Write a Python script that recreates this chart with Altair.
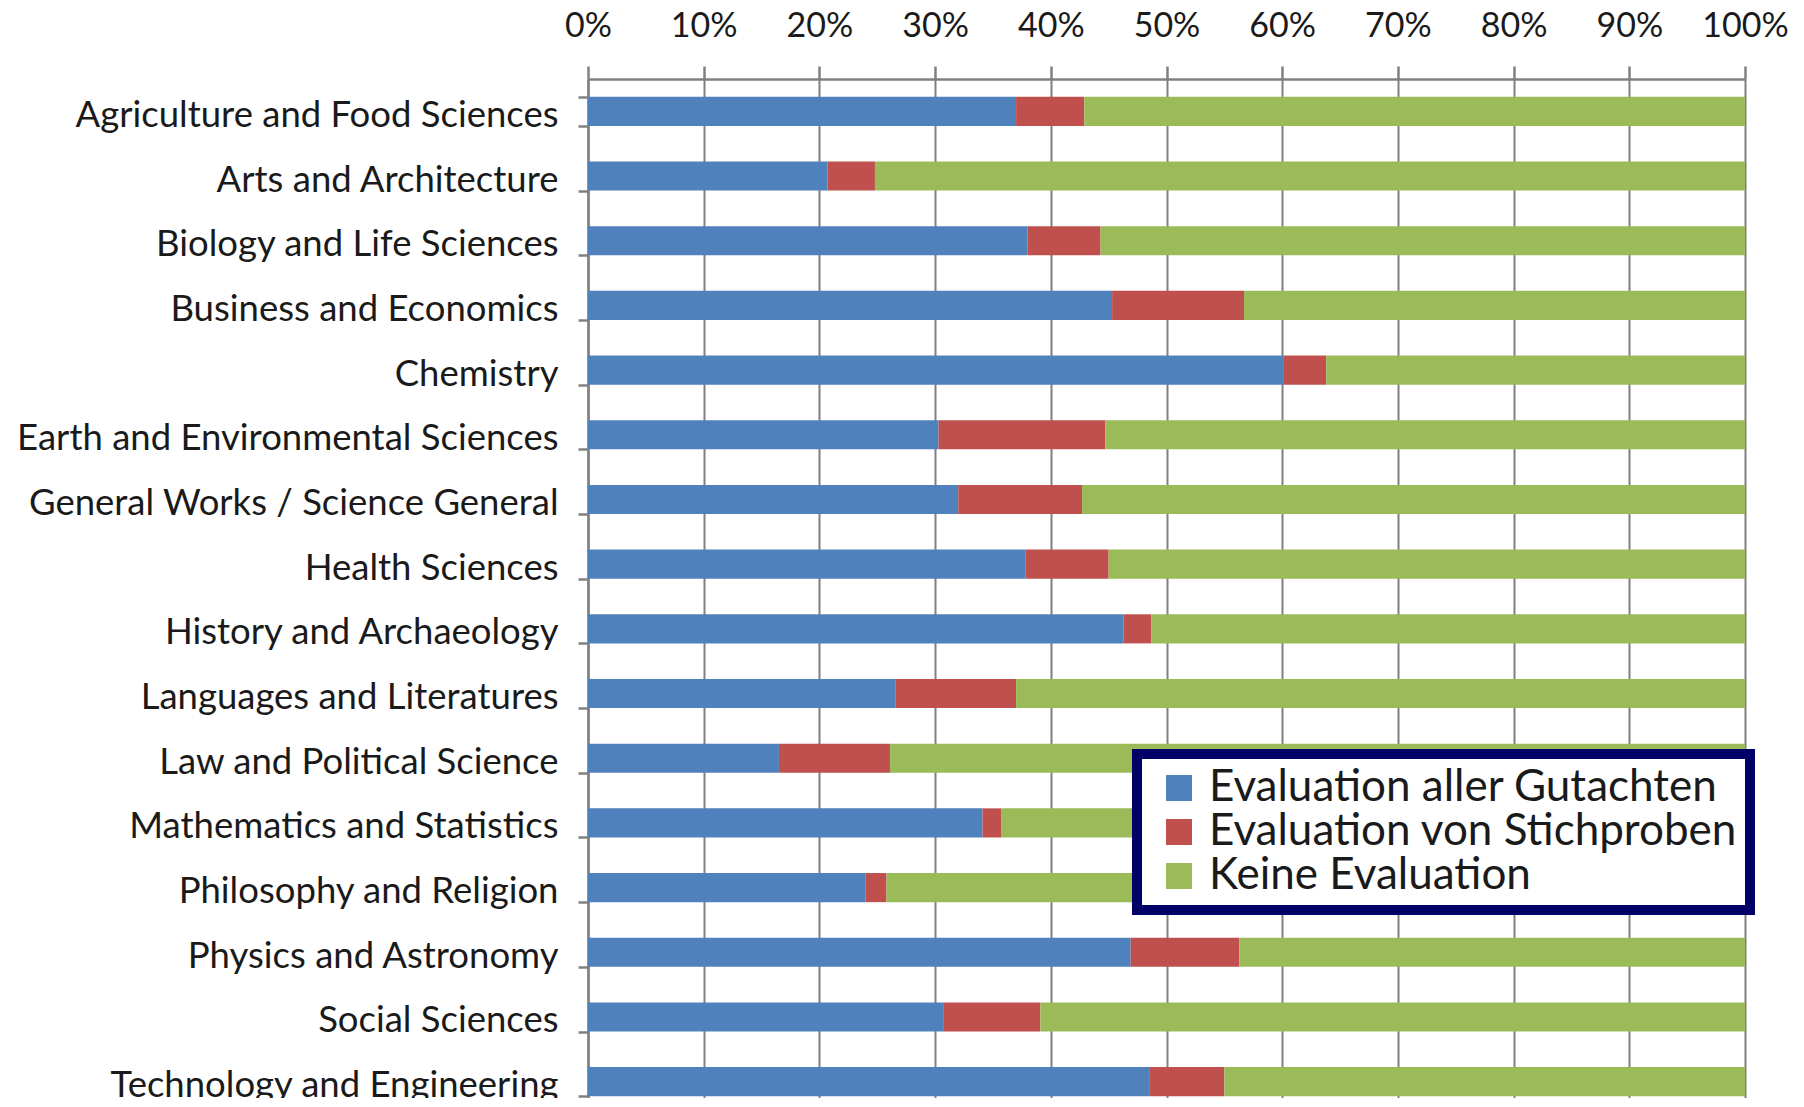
import altair as alt
import pandas as pd

categories = [
    "Agriculture and Food Sciences",
    "Arts and Architecture",
    "Biology and Life Sciences",
    "Business and Economics",
    "Chemistry",
    "Earth and Environmental Sciences",
    "General Works / Science General",
    "Health Sciences",
    "History and Archaeology",
    "Languages and Literatures",
    "Law and Political Science",
    "Mathematics and Statistics",
    "Philosophy and Religion",
    "Physics and Astronomy",
    "Social Sciences",
    "Technology and Engineering",
]
series_names = ["Evaluation aller Gutachten", "Evaluation von Stichproben", "Keine Evaluation"]
series_colors = ["#4F81BD", "#C0504D", "#9BBB59"]

all_reviews = [37.0, 20.7, 38.0, 45.3, 60.1, 30.3, 32.0, 37.8, 46.3, 26.6, 16.5, 34.1, 24.0, 46.9, 30.7, 48.5]
samples = [5.9, 4.1, 6.3, 11.4, 3.7, 14.4, 10.7, 7.2, 2.4, 10.4, 9.6, 1.6, 1.8, 9.4, 8.4, 6.5]
no_eval = [57.1, 75.2, 55.7, 43.3, 36.2, 55.3, 57.3, 55.0, 51.3, 63.0, 73.9, 64.3, 74.2, 43.7, 60.9, 45.0]

tick_values = [0, 0.1, 0.2, 0.3, 0.4, 0.5, 0.6, 0.7, 0.8, 0.9, 1.0]

rows = []
for s_idx, (name, vals) in enumerate(zip(series_names, [all_reviews, samples, no_eval])):
    for cat, v in zip(categories, vals):
        rows.append({"category": cat, "series": name, "idx": s_idx, "value": v})
df = pd.DataFrame(rows)

GRAY = "#808080"
FONT = "Lato"

chart = (
    alt.Chart(df)
    .mark_bar()
    .encode(
        x=alt.X(
            "value:Q",
            stack="normalize",
            scale=alt.Scale(domain=[0, 1], nice=False),
            title=None,
            axis=alt.Axis(
                orient="top",
                values=tick_values,
                format=".0%",
                grid=True,
                gridColor=GRAY,
                gridWidth=2,
                gridOpacity=1,
                domainColor=GRAY,
                domainWidth=2.5,
                tickColor=GRAY,
                tickWidth=2.5,
                tickSize=13,
                labelFont=FONT,
                labelFontSize=34,
                labelColor="#1a1a1a",
                labelPadding=23,
                labelFlush=False,
                labelOverlap=False,
            ),
        ),
        y=alt.Y(
            "category:N",
            sort=categories,
            title=None,
            scale=alt.Scale(range=[0, 1035], paddingInner=0.55, paddingOuter=0.275),
            axis=alt.Axis(
                orient="left",
                tickBand="extent",
                domainColor=GRAY,
                domainWidth=2.5,
                tickColor=GRAY,
                tickWidth=2.5,
                tickSize=10,
                labelFont=FONT,
                labelFontSize=36.5,
                labelColor="#1a1a1a",
                labelPadding=20,
                labelOffset=4,
                labelLimit=700,
                grid=False,
            ),
        ),
        color=alt.Color(
            "series:N",
            scale=alt.Scale(domain=series_names, range=series_colors),
            legend=alt.Legend(
                title=None,
                orient="none",
                legendX=549,
                legendY=675,
                symbolType="square",
                symbolSize=676,
                symbolStrokeWidth=0,
                symbolOpacity=1,
                symbolOffset=8,
                labelFont=FONT,
                labelFontSize=44,
                labelColor="#1a1a1a",
                labelOffset=8,
                rowPadding=0,
                padding=12,
                strokeColor="#000066",
                fillColor="white",
                labelLimit=700,
            ),
        ),
        order=alt.Order("idx:Q"),
    )
    .properties(
        width=1157,
        height=1019,
        padding={"left": 580, "top": 71, "right": 48, "bottom": 0},
        autosize=alt.AutoSizeParams(type="none"),
    )
    .configure_view(strokeWidth=0)
    .configure_legend(strokeWidth=10)
)

chart.save("out.html", embed_options={"renderer": "svg", "actions": False})
